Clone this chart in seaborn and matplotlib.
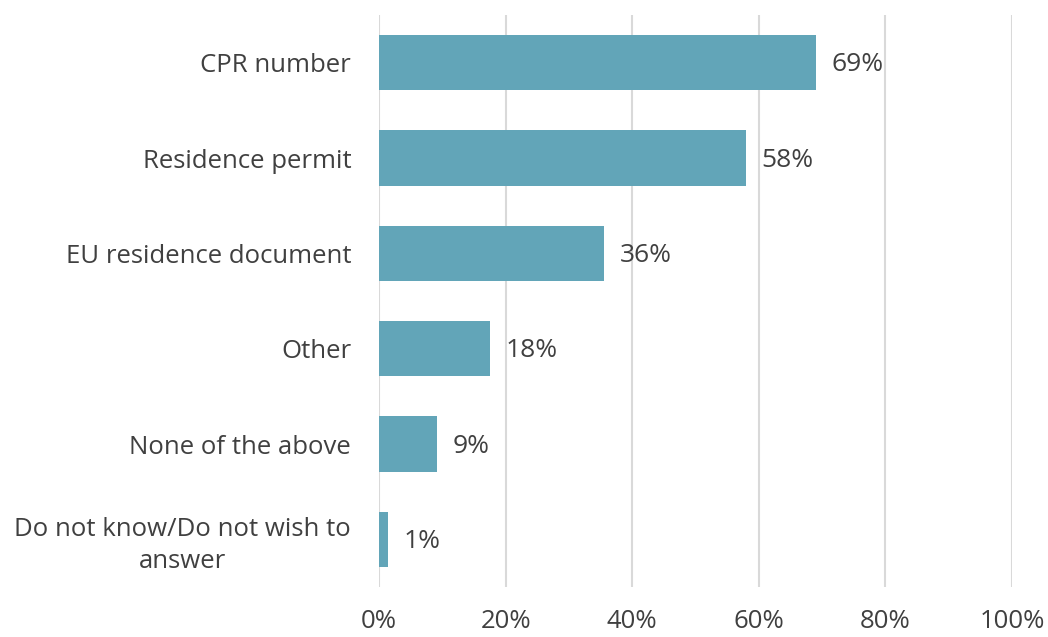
import matplotlib
matplotlib.use("Agg")
import matplotlib.pyplot as plt
import seaborn as sns
import pandas as pd
from matplotlib.ticker import FuncFormatter

categories = ["CPR number", "Residence permit", "EU residence document", "Other",
              "None of the above", "Do not know/Do not wish to\nanswer"]
values = [69.1, 58.0, 35.6, 17.6, 9.2, 1.4]
labels = ["69%", "58%", "36%", "18%", "9%", "1%"]
xticks = [0, 20, 40, 60, 80, 100]

sns.set_theme(style="white")
plt.rcParams['font.family'] = ['Open Sans', 'DejaVu Sans']

df = pd.DataFrame({"cat": categories, "val": values})

fig = plt.figure(figsize=(10.48, 6.37), dpi=100)
ax = fig.add_axes([379/1048, 1-587/637, (1012-379)/1048, (587-15)/637])

sns.barplot(data=df, x="val", y="cat", orient="h", color="#62A5B8",
            saturation=1, width=0.58, ax=ax, zorder=3, linewidth=0)

ax.set_xlim(0, 100)
ax.set_xticks(xticks)
ax.xaxis.set_major_formatter(FuncFormatter(lambda v, p: f"{int(v)}%"))
ax.grid(axis="x", color="#D9D9D9", linewidth=1.5, zorder=0)
ax.set_axisbelow(True)
for s in ax.spines.values():
    s.set_visible(False)
ax.set_xlabel("")
ax.set_ylabel("")
ax.tick_params(axis="x", length=0, pad=16, labelsize=18.5, labelcolor="#404040")
ax.tick_params(axis="y", length=0, pad=20, labelsize=18.5, labelcolor="#404040")
for t in ax.get_yticklabels():
    t.set_multialignment("center")
    t.set_linespacing(1.35)

for i, (v, lab) in enumerate(zip(values, labels)):
    ax.annotate(lab, (v, i), xytext=(11, -1.5), textcoords="offset points",
                va="center", ha="left", fontsize=19, color="#404040")

fig.savefig("out.png", dpi=100)
